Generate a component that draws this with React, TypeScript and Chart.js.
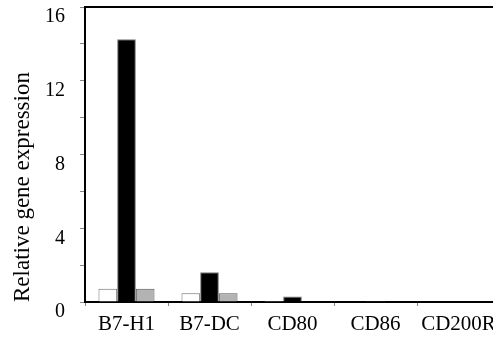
import React, { useEffect, useRef } from 'react';
import { Chart, registerables } from 'chart.js';

Chart.register(...registerables);

const categories = ['B7-H1', 'B7-DC', 'CD80', 'CD86', 'CD200R'];
const seriesWhite = [0.72, 0.47, 0.06, 0, 0];
const seriesBlack = [14.25, 1.62, 0.3, 0.05, 0];
const seriesGray = [0.72, 0.47, 0, 0, 0];
const yMin = 0;
const yMax = 16;
const yStep = 2;
const yLabelEvery = 4;
const yTitle = 'Relative gene expression';

const FONT = "'Liberation Serif', 'Times New Roman', serif";

export default function App() {
  const ref = useRef<HTMLCanvasElement | null>(null);

  useEffect(() => {
    if (!ref.current) return;
    const chart = new Chart(ref.current, {
      type: 'bar',
      data: {
        labels: categories,
        datasets: [
          { data: seriesWhite, backgroundColor: '#ffffff', borderColor: '#6e6e6e', borderWidth: 1 },
          { data: seriesBlack, backgroundColor: '#000000', borderColor: '#7a7a7a', borderWidth: 1 },
          { data: seriesGray, backgroundColor: '#b3b3b3', borderColor: '#555555', borderWidth: 1 },
        ],
      },
      options: {
        responsive: false,
        animation: false,
        devicePixelRatio: 1,
        layout: { padding: { left: 0, right: 2, top: 7, bottom: 0 } },
        datasets: {
          bar: { categoryPercentage: 0.675, barPercentage: 1 },
        },
        plugins: {
          legend: { display: false },
          tooltip: { enabled: false },
        },
        scales: {
          x: {
            afterFit: (scale: any) => {
              scale.height = 40;
              scale.paddingLeft = 0;
              scale.paddingRight = 0;
            },
            grid: { drawOnChartArea: false, drawTicks: true, tickLength: 4, color: '#888888', offset: true },
            border: { display: true, color: '#000000', width: 2 },
            ticks: {
              color: '#000000',
              padding: 6,
              maxRotation: 0,
              autoSkip: false,
              font: { family: FONT, size: 21 },
            },
          },
          x2: {
            type: 'category',
            position: 'top',
            afterFit: (scale: any) => {
              scale.height = 0;
              scale.paddingLeft = 0;
              scale.paddingRight = 0;
            },
            grid: { display: true, drawOnChartArea: false, drawTicks: false },
            border: { display: true, color: '#000000', width: 2 },
            ticks: { display: false },
          },
          y: {
            min: yMin,
            max: yMax,
            afterFit: (scale: any) => {
              scale.width = 85;
              scale.paddingTop = 0;
              scale.paddingBottom = 0;
            },
            grid: { drawOnChartArea: false, drawTicks: true, tickLength: 5, color: '#888888' },
            border: { display: true, color: '#000000', width: 2 },
            ticks: {
              stepSize: yStep,
              color: '#000000',
              padding: 15,
              labelOffset: 10,
              font: { family: FONT, size: 20 },
              callback: (v: any) => (Number(v) % yLabelEvery === 0 ? String(v) : ''),
            },
            title: {
              display: true,
              text: yTitle,
              color: '#000000',
              align: 'start',
              padding: { top: 9, bottom: 0 },
              font: { family: FONT, size: 23 },
            },
          },
        },
      },
    });
    return () => chart.destroy();
  }, []);

  return (
    <div style={{ position: 'fixed', left: 0, top: 0, width: 493, height: 342, overflow: 'hidden', background: '#fff' }}>
      <canvas ref={ref} width={502} height={342} style={{ width: 502, height: 342, display: 'block' }} />
    </div>
  );
}
